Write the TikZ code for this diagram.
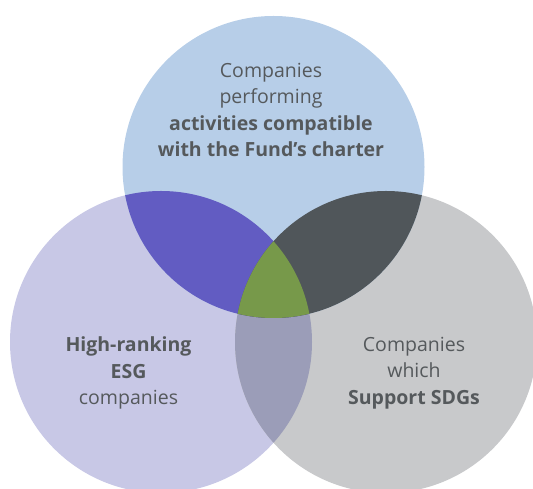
\documentclass[tikz,border=0pt]{standalone}
\usepackage{fontspec}
\setmainfont{Open Sans}
\usepackage{xcolor}
\usetikzlibrary{calc, positioning}

\definecolor{charterblue}{HTML}{B7CEE8}
\definecolor{esglilac}{HTML}{C8C8E6}
\definecolor{sdggray}{HTML}{C8C9CB}
\definecolor{charteresg}{HTML}{625CC2}
\definecolor{chartersdg}{HTML}{50565A}
\definecolor{esgsdg}{HTML}{9B9DB8}
\definecolor{allthree}{HTML}{77994A}
\definecolor{labeltext}{HTML}{55595C}

\tikzset{
  setlabel/.style={text=labeltext, align=center, inner sep=0pt,
    font=\fontsize{19.5}{26.5}\selectfont}
}

\begin{document}
\begin{tikzpicture}[x=1pt,y=1pt]
\def\rad{151}
\useasboundingbox (0,0) rectangle (533,489);

\coordinate (T) at (273.5,322);
\coordinate (L) at (161,147);
\coordinate (R) at (386,147);

% Plain circles
\fill[esglilac] (L) circle (\rad);
\fill[sdggray] (R) circle (\rad);
\fill[charterblue] (T) circle (\rad);

% Pairwise overlaps
\begin{scope}
  \clip (L) circle (\rad);
  \fill[esgsdg] (R) circle (\rad);
  \fill[charteresg] (T) circle (\rad);
\end{scope}
\begin{scope}
  \clip (R) circle (\rad);
  \fill[chartersdg] (T) circle (\rad);
\end{scope}

% Centre where all three meet
\begin{scope}
  \clip (L) circle (\rad);
  \clip (R) circle (\rad);
  \fill[allthree] (T) circle (\rad);
\end{scope}

% Set labels
\node[setlabel] (charter) at (271,379)
  {Companies\\performing\\\textbf{activities compatible}\\\textbf{with the Fund’s charter}};
\node[setlabel] (esg) at (128.5,116)
  {\textbf{High-ranking}\\\textbf{ESG}\\companies};
\node[setlabel] (sdg) at (414,116)
  {Companies\\which\\\textbf{Support SDGs}};
\end{tikzpicture}
\end{document}
